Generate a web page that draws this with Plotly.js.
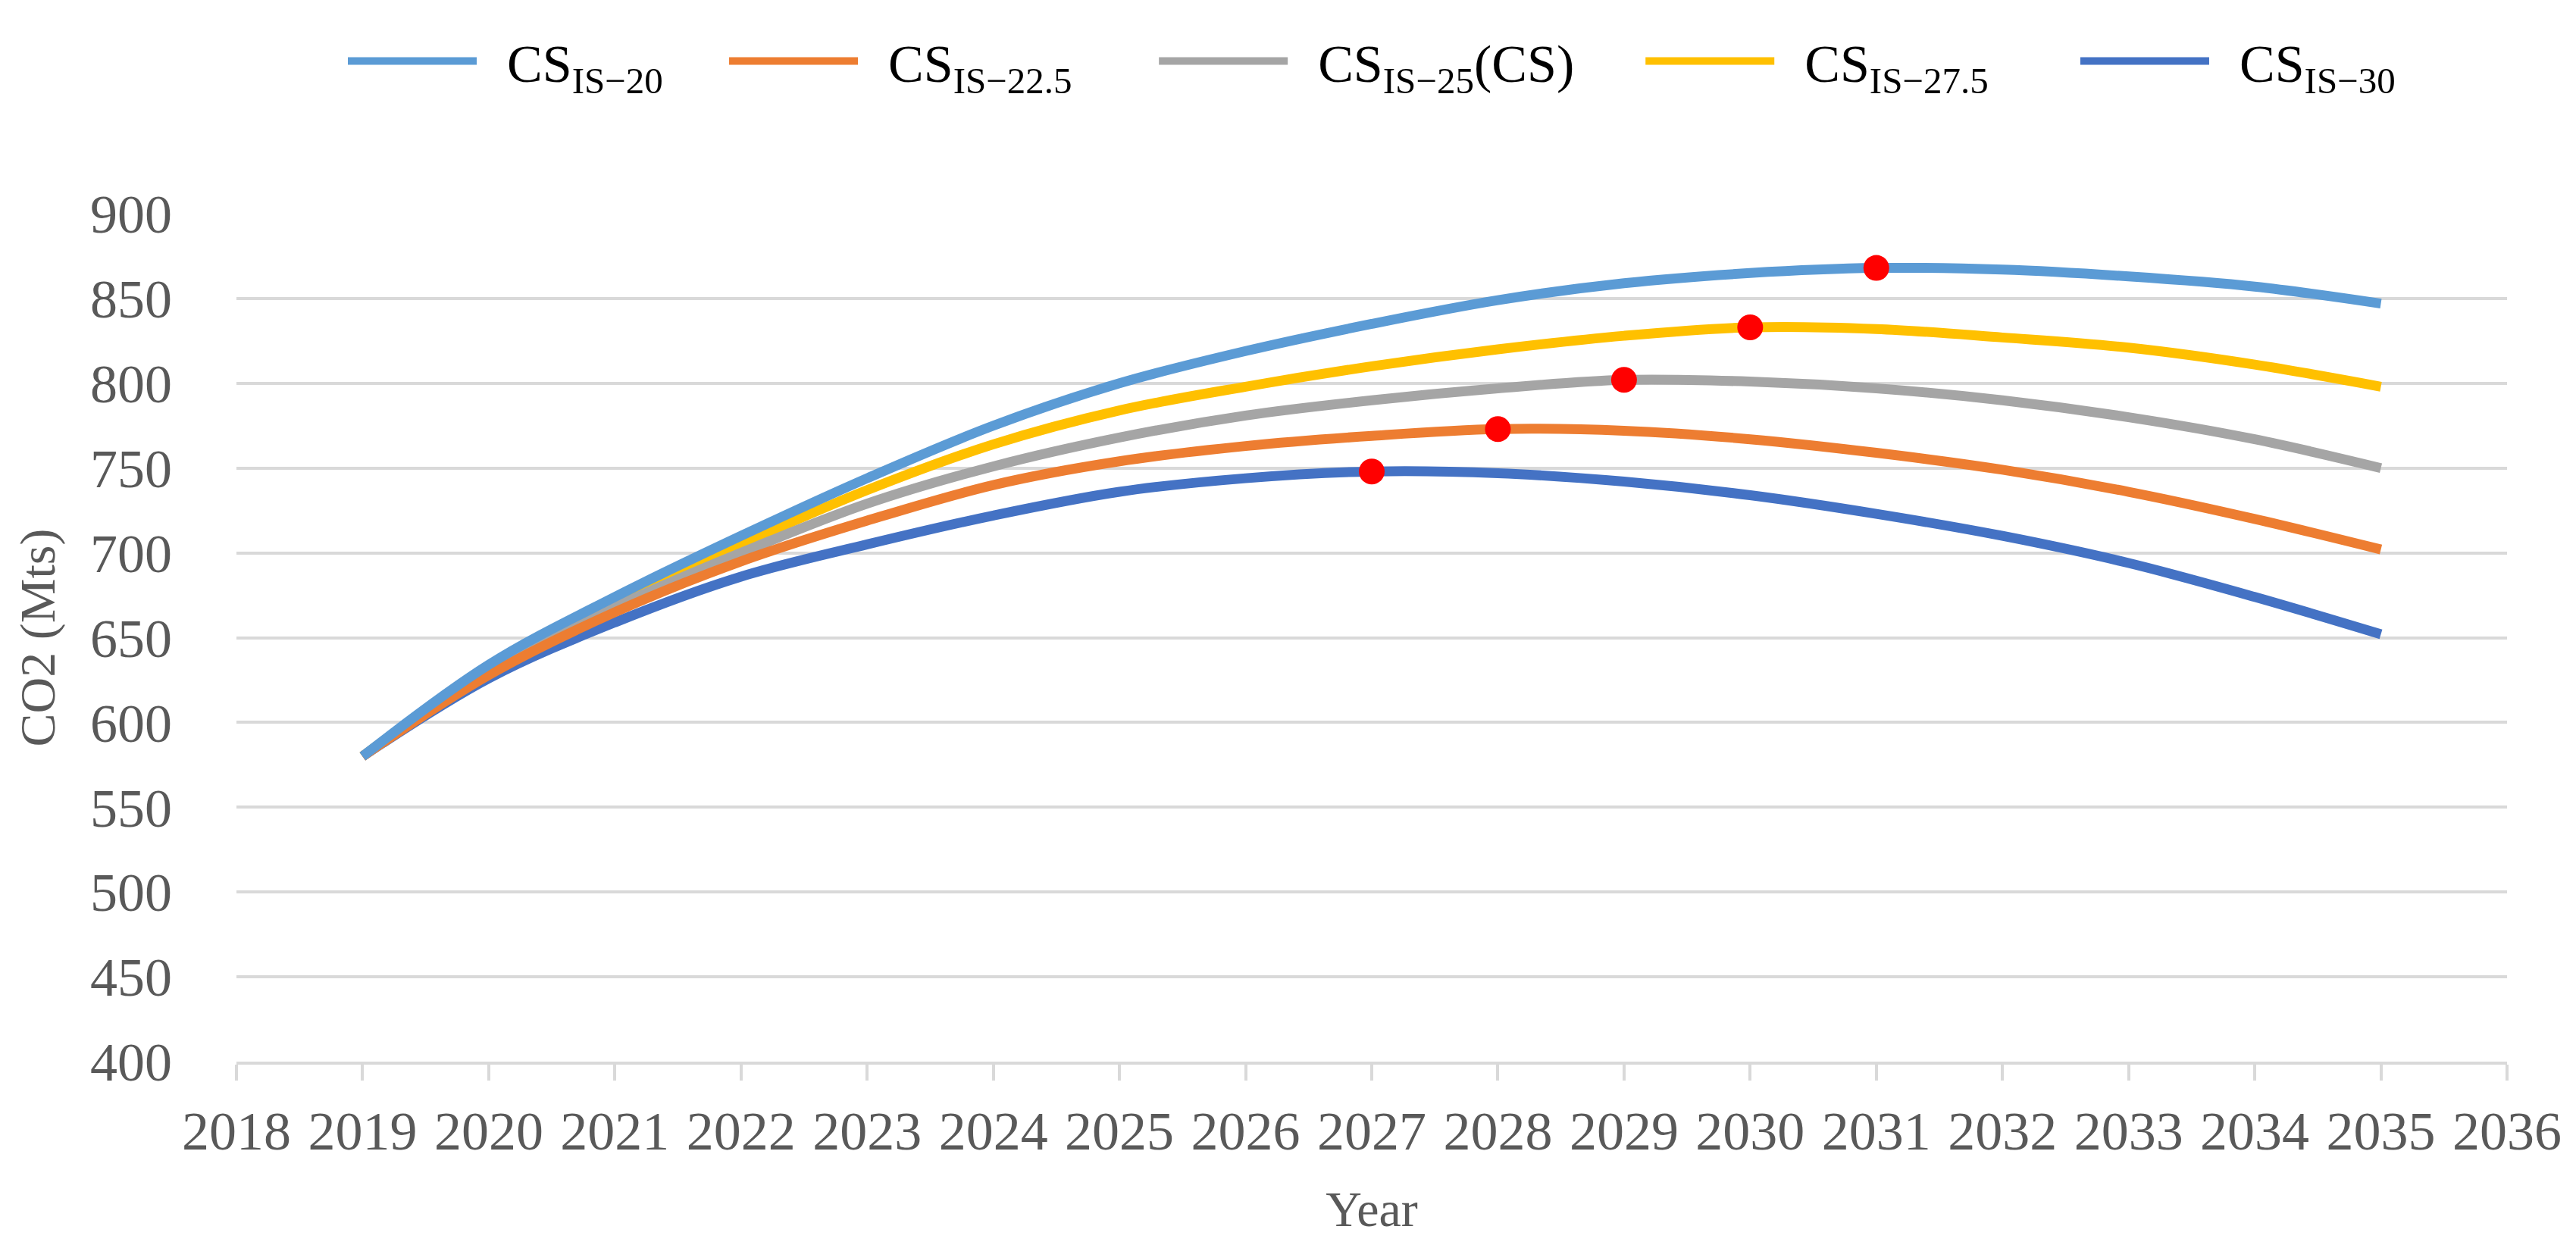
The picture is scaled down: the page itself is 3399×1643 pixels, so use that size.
<!DOCTYPE html>
<html>
<head>
<meta charset="utf-8">
<script src="https://cdn.plot.ly/plotly-3.0.1.min.js"></script>
<style>html,body{margin:0;padding:0;background:#fff;}#chart{width:3399px;height:1643px;}</style>
</head>
<body>
<div id="chart"></div>
<script>
// ---- data ----
const years = [2019,2020,2021,2022,2023,2024,2025,2026,2027,2028,2029,2030,2031,2032,2033,2034,2035];
const seriesNames = [
  "CS<sub>IS\u221220</sub>",
  "CS<sub>IS\u221222.5</sub>",
  "CS<sub>IS\u221225</sub>(CS)",
  "CS<sub>IS\u221227.5</sub>",
  "CS<sub>IS\u221230</sub>"
];
const cs20   = [580,634,674,710,744,775,800,819,835,849,859,865,868,867,863,857,847];
const cs22_5 = [580,628,665,695,719,740,754,763,769,773,772,767,759,749,736,720,702];
const cs25   = [580,630,668,700,729,751,768,781,790,797,802,801,797,790,780,767,750];
const cs27_5 = [580,632,671,705,737,764,784,798,810,820,828,833,832,827,821,811,798];
const cs30   = [580,626,659,686,705,722,736,744,748,747,742,734,723,710,694,674,652];
const xTickVals = [2018,2019,2020,2021,2022,2023,2024,2025,2026,2027,2028,2029,2030,2031,2032,2033,2034,2035,2036];
const yTickVals = [400,450,500,550,600,650,700,750,800,850,900];

const seriesValues = [cs20, cs22_5, cs25, cs27_5, cs30];
const colors = ["#5B9BD5", "#ED7D31", "#A5A5A5", "#FFC000", "#4472C4"];
const legendIds = ["legend", "legend2", "legend3", "legend4", "legend5"];
const legendX = [0.0474, 0.2153, 0.4046, 0.6189, 0.8104];

const traces = seriesValues.map((vals, i) => ({
  type: "scatter", mode: "lines",
  x: years, y: vals, name: "\u2002" + seriesNames[i], legend: legendIds[i],
  line: {color: colors[i], width: 13, shape: "spline", smoothing: 1}
})).reverse();   // first series drawn on top, as in the reference

// peak (maximum) point of each series, taken from the series themselves
const peakX = [], peakY = [];
seriesValues.forEach(vals => {
  let k = 0;
  vals.forEach((v, j) => { if (v > vals[k]) k = j; });
  peakX.push(years[k]); peakY.push(vals[k]);
});
traces.push({
  type: "scatter", mode: "markers", x: peakX, y: peakY, showlegend: false,
  marker: {color: "#FF0000", size: 34}
});

const serif = "Liberation Serif, Times New Roman, serif";
const layout = {
  width: 3399, height: 1643,
  margin: {l: 312, r: 91, t: 282, b: 242},
  paper_bgcolor: "#fff", plot_bgcolor: "#fff",
  showlegend: true,
  xaxis: {
    range: [2018, 2036], tickvals: xTickVals, ticktext: xTickVals.map(String),
    showgrid: false, zeroline: false,
    showline: true, linecolor: "#D9D9D9", linewidth: 4,
    ticks: "outside", ticklen: 21, tickwidth: 4, tickcolor: "#D9D9D9",
    tickfont: {family: serif, size: 72, color: "#595959"},
    ticklabelstandoff: 5,
    title: {text: "Year", font: {family: serif, size: 66, color: "#595959"}, standoff: 40}
  },
  yaxis: {
    range: [400, 900], tickvals: yTickVals,
    showgrid: true, gridcolor: "#D9D9D9", gridwidth: 4,
    zeroline: false, showline: false, ticks: "",
    tickfont: {family: serif, size: 72, color: "#595959"},
    ticklabelstandoff: 84,
    title: {text: "CO2 (Mts)", font: {family: serif, size: 66, color: "#595959"}, standoff: 24}
  }
};
legendIds.forEach((id, i) => {
  layout[id] = {
    orientation: "h", x: legendX[i], xanchor: "left", y: 1.18, yanchor: "middle",
    font: {family: serif, size: 70, color: "#000"},
    itemwidth: 170, bgcolor: "rgba(0,0,0,0)"
  };
});

Plotly.newPlot("chart", traces, layout, {displayModeBar: false, staticPlot: true});
</script>
</body>
</html>
